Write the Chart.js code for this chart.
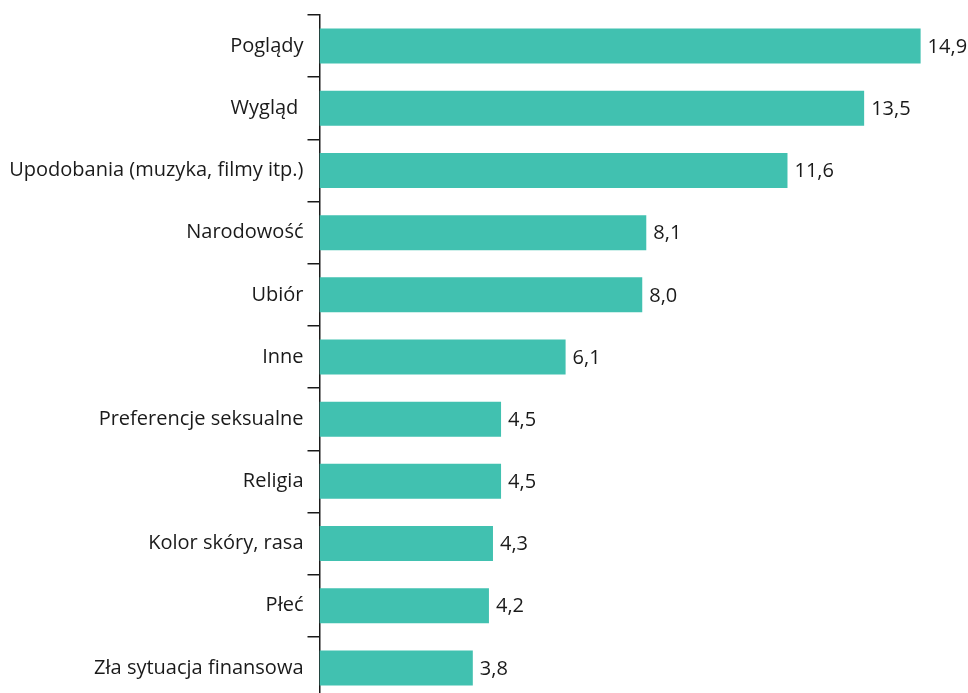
<!DOCTYPE html>
<html>
<head>
<meta charset="utf-8">
<script src="https://cdn.jsdelivr.net/npm/chart.js@4/dist/chart.umd.min.js"></script>
<style>
html,body{margin:0;padding:0;background:#fff;overflow:hidden;width:968px;height:693px;}
#wrap{width:968px;height:699px;position:relative;}
</style>
</head>
<body>
<div id="wrap"><canvas id="c"></canvas></div>
<script>
const categories = ["Poglądy","Wygląd ","Upodobania (muzyka, filmy itp.)","Narodowość","Ubiór","Inne","Preferencje seksualne","Religia","Kolor skóry, rasa","Płeć","Zła sytuacja finansowa"];
const values = [14.9,13.5,11.6,8.1,8.0,6.1,4.5,4.5,4.3,4.2,3.8];
const valueLabels = ["14,9","13,5","11,6","8,1","8,0","6,1","4,5","4,5","4,3","4,2","3,8"];

const FONT = "'Open Sans', 'DejaVu Sans', sans-serif";

const valuePlugin = {
  id: 'valueLabels',
  afterDatasetsDraw(chart) {
    const ctx = chart.ctx;
    const meta = chart.getDatasetMeta(0);
    ctx.save();
    ctx.font = "20px " + FONT;
    ctx.fillStyle = "#1a1a1a";
    ctx.textAlign = "left";
    ctx.textBaseline = "middle";
    meta.data.forEach((bar, i) => {
      ctx.fillText(valueLabels[i], bar.x + 7, bar.y + 1);
    });
    ctx.restore();
  }
};

new Chart(document.getElementById('c'), {
  type: 'bar',
  data: {
    labels: categories,
    datasets: [{
      data: values,
      backgroundColor: '#41C1B0',
      borderWidth: 0,
      categoryPercentage: 1,
      barPercentage: 0.563
    }]
  },
  options: {
    indexAxis: 'y',
    responsive: true,
    maintainAspectRatio: false,
    animation: false,
    layout: { padding: { top: 15, right: 3, bottom: 0, left: 0 } },
    plugins: { legend: { display: false }, tooltip: { enabled: false } },
    scales: {
      x: { display: false, min: 0, max: 16 },
      y: {
        afterFit(scale) { scale.width = 319.5; scale.paddingTop = 0; scale.paddingBottom = 0; },
        border: { display: true, color: '#1a1a1a', width: 1.5 },
        grid: { display: true, drawOnChartArea: false, drawTicks: true, tickLength: 12, color: '#1a1a1a', lineWidth: 1.5, offset: true },
        ticks: { color: '#1a1a1a', font: { family: FONT, size: 20 }, padding: 4, autoSkip: false }
      }
    }
  },
  plugins: [valuePlugin]
});
</script>
</body>
</html>
